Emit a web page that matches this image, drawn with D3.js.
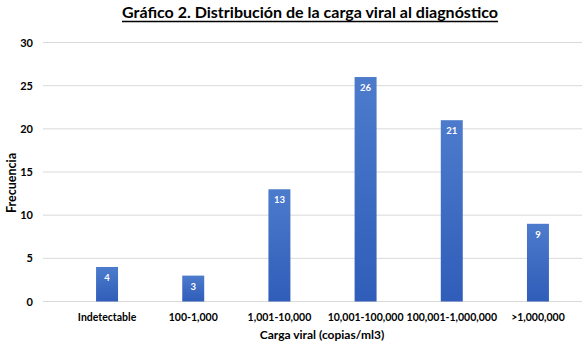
<!DOCTYPE html>
<html>
<head>
<meta charset="utf-8">
<script src="https://cdn.jsdelivr.net/npm/d3@7"></script>
<style>
  body { margin: 0; background: #fff; }
  svg { font-family: Lato, "Open Sans", sans-serif; }
</style>
</head>
<body>
<svg id="chart" width="584" height="350"></svg>
<script>
var categories = ["Indetectable", "100-1,000", "1,001-10,000", "10,001-100,000", "100,001-1,000,000", ">1,000,000"];
var frecuencia = [4, 3, 13, 26, 21, 9];
var yTicks = [0, 5, 10, 15, 20, 25, 30];

var WIDTH = 584,
    HEIGHT = 350,
    MARGINS = { top: 42.5, right: 3, bottom: 48.5, left: 64 };

var svg = d3.select("#chart");

var defs = svg.append("defs");
var grad = defs.append("linearGradient")
    .attr("id", "barGrad")
    .attr("x1", 0).attr("y1", 0).attr("x2", 0).attr("y2", 1);
grad.append("stop").attr("offset", "0%").attr("stop-color", "#4d7bcc");
grad.append("stop").attr("offset", "100%").attr("stop-color", "#2f5db9");

var xScale = d3.scaleBand()
    .domain(categories)
    .range([MARGINS.left, WIDTH - MARGINS.right])
    .paddingInner(0.745)
    .paddingOuter(0.372);

var yScale = d3.scaleLinear()
    .domain([0, 30])
    .range([HEIGHT - MARGINS.bottom, MARGINS.top]);

// gridlines
svg.append("g")
    .selectAll("line")
    .data(yTicks)
    .enter().append("line")
    .attr("x1", 43)
    .attr("x2", 582)
    .attr("y1", function(d) { return yScale(d); })
    .attr("y2", function(d) { return yScale(d); })
    .attr("stroke", "#d9d9d9")
    .attr("stroke-width", 1);

// y axis labels
var yAxis = d3.axisLeft(yScale).tickValues(yTicks).tickSize(0).tickPadding(0);
svg.append("g")
    .attr("transform", "translate(33,0)")
    .call(yAxis)
    .call(function(g) { g.select(".domain").remove(); })
    .selectAll("text")
    .attr("font-family", "Lato, sans-serif")
    .attr("font-size", 11)
    .attr("font-weight", "bold")
    .attr("fill", "#000");

// x axis labels
var xAxis = d3.axisBottom(xScale).tickSize(0).tickPadding(12);
svg.append("g")
    .attr("transform", "translate(0," + yScale(0) + ")")
    .call(xAxis)
    .call(function(g) { g.select(".domain").remove(); })
    .selectAll("text")
    .attr("font-family", "Lato, sans-serif")
    .attr("font-size", 10.5)
    .attr("font-weight", "bold")
    .attr("fill", "#000");

// bars
svg.append("g")
    .selectAll("rect")
    .data(frecuencia)
    .enter().append("rect")
    .attr("x", function(d, i) { return xScale(categories[i]); })
    .attr("y", function(d) { return yScale(d); })
    .attr("width", xScale.bandwidth())
    .attr("height", function(d) { return yScale(0) - yScale(d); })
    .attr("fill", "url(#barGrad)");

// bar labels
svg.append("g")
    .selectAll("text")
    .data(frecuencia)
    .enter().append("text")
    .attr("x", function(d, i) { return xScale(categories[i]) + xScale.bandwidth() / 2; })
    .attr("y", function(d) { return yScale(d) + 14; })
    .attr("text-anchor", "middle")
    .attr("font-size", 9.5)
    .attr("font-weight", "bold")
    .attr("fill", "#fff")
    .text(function(d) { return d; });

// title
svg.append("text")
    .attr("x", 310)
    .attr("y", 17.5)
    .attr("text-anchor", "middle")
    .attr("font-size", 16)
    .attr("font-weight", "bold")
    .attr("fill", "#000")
    .attr("textLength", 376)
    .attr("lengthAdjust", "spacingAndGlyphs")
    .text("Gráfico 2. Distribución de la carga viral al diagnóstico");
svg.append("line")
    .attr("x1", 122).attr("x2", 498)
    .attr("y1", 21.5).attr("y2", 21.5)
    .attr("stroke", "#000").attr("stroke-width", 1.6);

// axis titles
var xt = svg.append("text")
    .attr("x", 322)
    .attr("y", 339)
    .attr("text-anchor", "middle")
    .attr("font-size", 12)
    .attr("font-weight", "bold")
    .attr("fill", "#000")
    .text("Carga viral (copias/ml3)");
if (xt.node().getComputedTextLength() > 125) xt.attr("textLength", 125).attr("lengthAdjust", "spacingAndGlyphs");

var yt = svg.append("text")
    .attr("transform", "translate(16,183) rotate(-90)")
    .attr("text-anchor", "middle")
    .attr("font-size", 12.5)
    .attr("font-weight", "bold")
    .attr("fill", "#000")
    .attr("textLength", 60)
    .attr("lengthAdjust", "spacingAndGlyphs")
    .text("Frecuencia");
</script>
</body>
</html>
